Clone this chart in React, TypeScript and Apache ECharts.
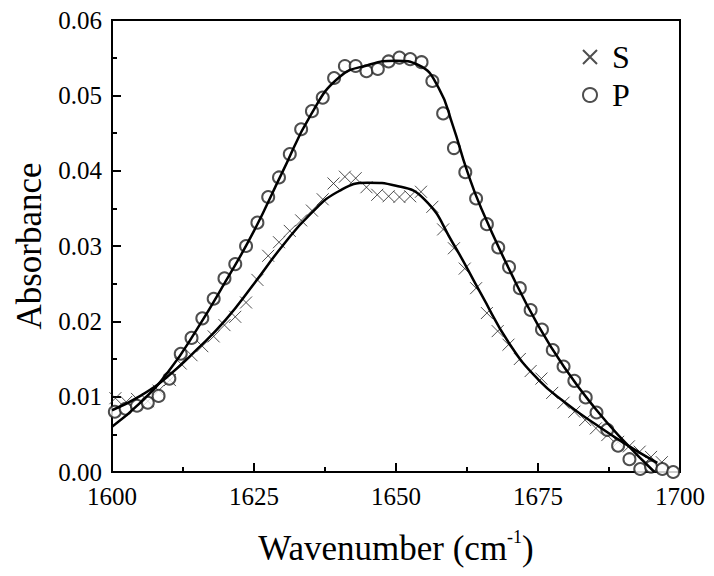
import React, { useEffect, useRef } from "react";
import * as echarts from "echarts";

// P (circles) measured points: [wavenumber, absorbance]
const pWave = [1600.5, 1602.4, 1604.4, 1606.3, 1608.2, 1610.1, 1612.1, 1614.0, 1615.9, 1617.9, 1619.8, 1621.7, 1623.6, 1625.6, 1627.5, 1629.4, 1631.3, 1633.3, 1635.2, 1637.1, 1639.1, 1641.0, 1642.9, 1644.8, 1646.8, 1648.7, 1650.6, 1652.5, 1654.5, 1656.4, 1658.3, 1660.2, 1662.2, 1664.1, 1666.0, 1668.0, 1669.9, 1671.8, 1673.7, 1675.7, 1677.6, 1679.5, 1681.4, 1683.4, 1685.3, 1687.2, 1689.1, 1691.1, 1693.0, 1694.9, 1696.9, 1698.8];
const pAbs = [0.0080, 0.0084, 0.0088, 0.0092, 0.0101, 0.0124, 0.0157, 0.0178, 0.0204, 0.0230, 0.0257, 0.0276, 0.0300, 0.0331, 0.0365, 0.0391, 0.0422, 0.0455, 0.0479, 0.0497, 0.0523, 0.0539, 0.0539, 0.0532, 0.0535, 0.0545, 0.0550, 0.0548, 0.0544, 0.0519, 0.0476, 0.0430, 0.0398, 0.0363, 0.0329, 0.0298, 0.0272, 0.0244, 0.0215, 0.0189, 0.0162, 0.0140, 0.0121, 0.0099, 0.0079, 0.0056, 0.0035, 0.0017, 0.0004, 0.0007, 0.0004, 0.0000];

// S (crosses) measured points
const sWave = [1600.6, 1602.5, 1604.4, 1606.3, 1608.2, 1610.2, 1612.1, 1614.0, 1615.9, 1617.9, 1619.8, 1621.7, 1623.6, 1625.6, 1627.5, 1629.4, 1631.3, 1633.3, 1635.2, 1637.1, 1639.0, 1641.0, 1642.9, 1644.8, 1646.7, 1648.7, 1650.6, 1652.5, 1654.4, 1656.4, 1658.3, 1660.2, 1662.1, 1664.1, 1666.0, 1667.9, 1669.8, 1671.8, 1673.7, 1675.6, 1677.5, 1679.5, 1681.4, 1683.3, 1685.2, 1687.2, 1689.1, 1691.0, 1692.9, 1694.9, 1696.8];
const sAbs = [0.0098, 0.0093, 0.0097, 0.0094, 0.0108, 0.0122, 0.0144, 0.0155, 0.0167, 0.0180, 0.0195, 0.0206, 0.0225, 0.0255, 0.0287, 0.0305, 0.0320, 0.0334, 0.0347, 0.0362, 0.0383, 0.0392, 0.0390, 0.0378, 0.0368, 0.0366, 0.0365, 0.0366, 0.0372, 0.0352, 0.0322, 0.0297, 0.0270, 0.0244, 0.0211, 0.0187, 0.0169, 0.0150, 0.0134, 0.0124, 0.0105, 0.0092, 0.0080, 0.0069, 0.0058, 0.0049, 0.0040, 0.0034, 0.0027, 0.0020, 0.0013];

// Fitted curves
const pFitWave = [1600, 1605, 1610, 1615, 1620, 1625, 1630, 1635, 1640, 1645, 1650, 1654, 1657.5, 1660, 1662.5, 1665, 1670, 1675, 1680, 1685, 1690, 1695.5];
const pFitAbs = [0.0060, 0.0092, 0.0134, 0.0190, 0.0253, 0.0320, 0.0398, 0.0474, 0.0524, 0.0540, 0.0546, 0.0540, 0.0510, 0.0460, 0.0400, 0.0350, 0.0268, 0.0195, 0.0135, 0.0085, 0.0042, 0.0000];

const sFitWave = [1600, 1605, 1610, 1615, 1620, 1625, 1630, 1635, 1640, 1645, 1650, 1655, 1660, 1665, 1670, 1675, 1680, 1685, 1690, 1696];
const sFitAbs = [0.0082, 0.0101, 0.0128, 0.0163, 0.0202, 0.0250, 0.0300, 0.0343, 0.0373, 0.0384, 0.0380, 0.0362, 0.0304, 0.0236, 0.0170, 0.0123, 0.0091, 0.0064, 0.0039, 0.0012];

const xTicks = [1600, 1625, 1650, 1675, 1700];
const yTicks = [0.0, 0.01, 0.02, 0.03, 0.04, 0.05, 0.06];

const zip = (a: number[], b: number[]) => a.map((v, i) => [v, b[i]]);

const FONT = "'Liberation Serif', 'Times New Roman', serif";
const CROSS = "path://M0,0L10,10M10,0L0,10";
const tickRich = { t: { fontFamily: FONT, fontSize: 25, color: "#000" } };

export default function App() {
  const ref = useRef<HTMLDivElement>(null);
  useEffect(() => {
    if (!ref.current) return;
    const chart = echarts.init(ref.current, undefined, { renderer: "svg" });
    chart.setOption({
      animation: false,
      backgroundColor: "#fff",
      textStyle: { fontFamily: FONT, color: "#000" },
      grid: {
        left: 112,
        right: 34,
        top: 20,
        bottom: 104,
        show: true,
        borderColor: "#000",
        borderWidth: 2,
      },
      legend: {
        orient: "vertical",
        left: 577,
        top: 36,
        itemGap: 6,
        itemWidth: 14,
        itemHeight: 14,
        data: ["S", "P"],
        textStyle: { fontFamily: FONT, fontSize: 32, color: "#000", padding: [0, 0, 0, 10] },
      },
      xAxis: {
        type: "value",
        min: xTicks[0],
        max: xTicks[xTicks.length - 1],
        interval: 25,
        name: "{a|Wavenumber (cm}{s|-1}{a|)}",
        nameLocation: "middle",
        nameGap: 56,
        nameTextStyle: {
          rich: {
            a: { fontFamily: FONT, fontSize: 35, color: "#000", lineHeight: 40 },
            s: { fontFamily: FONT, fontSize: 18, color: "#000", verticalAlign: "top", lineHeight: 40, padding: [0, 0, 14, 0] },
          },
        },
        axisLine: { lineStyle: { color: "#000", width: 2 } },
        axisTick: { inside: true, length: 9, lineStyle: { width: 2, color: "#000" } },
        minorTick: { show: true, splitNumber: 2, length: 5, lineStyle: { width: 2, color: "#000" } },
        splitLine: { show: false },
        axisLabel: {
          margin: 12,
          formatter: (v: number) => `{t|${v}}`,
          rich: tickRich,
        },
      },
      yAxis: {
        type: "value",
        min: yTicks[0],
        max: yTicks[yTicks.length - 1],
        interval: 0.01,
        name: "Absorbance",
        nameLocation: "middle",
        nameGap: 64,
        nameTextStyle: { fontFamily: FONT, fontSize: 35, color: "#000" },
        axisLine: { lineStyle: { color: "#000", width: 2 } },
        axisTick: { inside: true, length: 9, lineStyle: { width: 2, color: "#000" } },
        minorTick: { show: true, splitNumber: 2, length: 5, lineStyle: { width: 2, color: "#000" } },
        splitLine: { show: false },
        axisLabel: {
          margin: 10,
          formatter: (v: number) => `{t|${v.toFixed(2)}}`,
          rich: tickRich,
        },
      },
      series: [
        {
          name: "S",
          type: "scatter",
          data: zip(sWave, sAbs),
          symbol: CROSS,
          symbolSize: 12,
          itemStyle: { color: "rgba(0,0,0,0)", borderColor: "#222", borderWidth: 1 },
          z: 3,
        },
        {
          name: "P",
          type: "scatter",
          data: zip(pWave, pAbs),
          symbol: "emptyCircle",
          symbolSize: 12,
          itemStyle: { color: "#222", borderColor: "#222", borderWidth: 1 },
          z: 3,
        },
        {
          name: "S fit",
          type: "line",
          data: zip(sFitWave, sFitAbs),
          smooth: 0.5,
          symbol: "none",
          lineStyle: { color: "#000", width: 2.5 },
          z: 4,
        },
        {
          name: "P fit",
          type: "line",
          data: zip(pFitWave, pFitAbs),
          smooth: 0.5,
          symbol: "none",
          lineStyle: { color: "#000", width: 2.5 },
          z: 4,
        },
      ],
    });
    return () => chart.dispose();
  }, []);
  return (
    <div
      ref={ref}
      style={{ position: "absolute", left: 0, top: 0, width: 714, height: 576 }}
    />
  );
}
